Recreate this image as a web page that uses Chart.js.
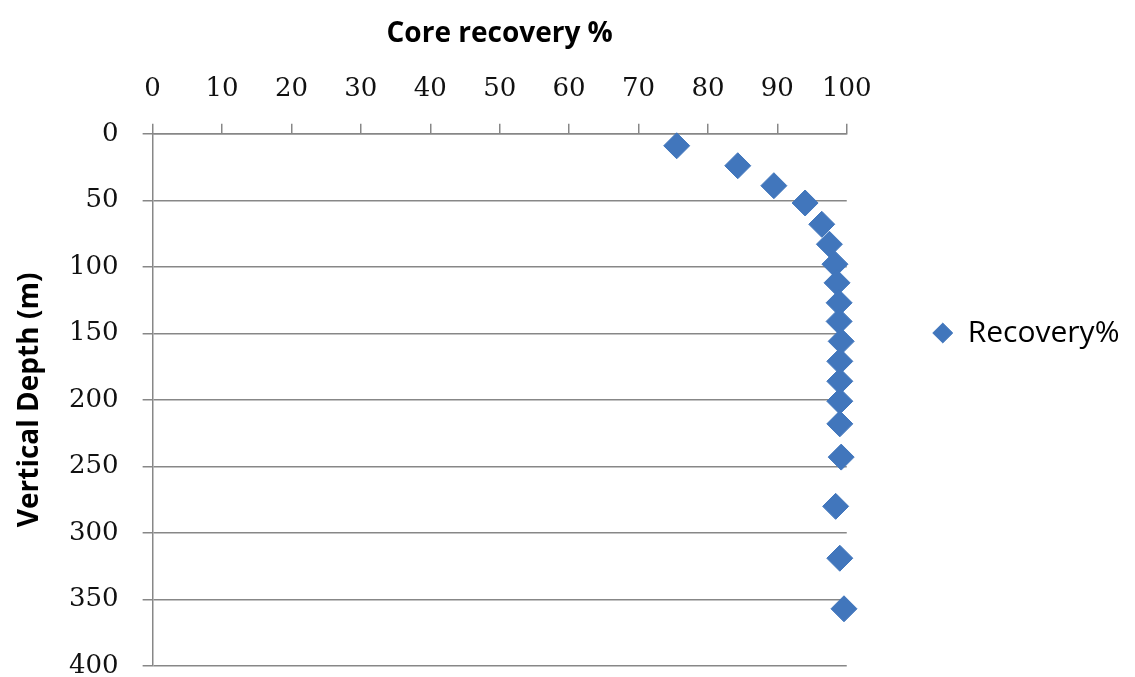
<!DOCTYPE html>
<html>
<head>
<meta charset="utf-8">
<script src="https://cdn.jsdelivr.net/npm/chart.js@4/dist/chart.umd.min.js"></script>
<style>
  html, body { margin: 0; padding: 0; background: #fff; }
  #wrap { width: 1135px; height: 677px; }
</style>
</head>
<body>
<div id="wrap"><canvas id="myChart" width="1135" height="677"></canvas></div>
<script>
'use strict';
// values
const recovery = [75.5, 84.3, 89.5, 94.0, 96.4, 97.5, 98.3, 98.6, 98.9, 98.9, 99.2, 99.0, 99.0, 99.0, 99.0, 99.2, 98.4, 99.0, 99.6];
const depth = [9, 24, 39, 52, 68, 83, 98, 112, 127, 141, 156, 171, 186, 201, 218, 243, 280, 319, 357];
const xTicks = [0, 10, 20, 30, 40, 50, 60, 70, 80, 90, 100];
const yTicks = [0, 50, 100, 150, 200, 250, 300, 350, 400];

const blue = '#4176BC';
const gridGrey = '#878787';
const tickFont = { family: '"DejaVu Serif", serif', size: 26 };
const titleFont = { family: '"Open Sans", sans-serif', size: 28, weight: 'bold' };

const points = recovery.map(function (v, i) {
    return { x: v, y: depth[i] };
});

const config = {
    type: 'scatter',
    data: {
        datasets: [
            {
                label: 'Recovery%',
                data: points,
                pointStyle: 'rectRot',
                pointRadius: 13,
                pointHoverRadius: 13,
                backgroundColor: blue,
                borderColor: blue,
                borderWidth: 1,
                clip: false,
            },
        ],
    },
    options: {
        responsive: false,
        animation: false,
        layout: {
            autoPadding: false,
            padding: { top: 0, left: 0, right: 6, bottom: 11 },
        },
        scales: {
            x: {
                type: 'linear',
                position: 'top',
                min: 0,
                max: 100,
                afterBuildTicks: function (axis) {
                    axis.ticks = xTicks.map(function (v) { return { value: v }; });
                },
                title: {
                    display: true,
                    text: 'Core recovery %',
                    color: '#000',
                    font: titleFont,
                    padding: { top: 17, bottom: 4 },
                },
                ticks: {
                    color: '#111',
                    font: tickFont,
                    padding: 19,
                    maxRotation: 0,
                },
                grid: {
                    drawOnChartArea: false,
                    drawTicks: true,
                    tickLength: 10,
                    color: gridGrey,
                    lineWidth: 1.5,
                },
                border: { display: true, color: gridGrey, width: 1.5 },
            },
            y: {
                type: 'linear',
                reverse: true,
                min: 0,
                max: 400,
                afterBuildTicks: function (axis) {
                    axis.ticks = yTicks.map(function (v) { return { value: v }; });
                },
                // let the 400 label hang near the bottom edge like the original
                afterFit: function (axis) {
                    axis.paddingBottom = 1;
                },
                title: {
                    display: true,
                    text: 'Vertical Depth (m)',
                    color: '#000',
                    font: { family: '"Open Sans", sans-serif', size: 28, weight: 'bold', lineHeight: 1 },
                    padding: { top: 16, bottom: 1 },
                },
                ticks: {
                    color: '#111',
                    font: tickFont,
                    padding: 24,
                },
                grid: {
                    drawOnChartArea: true,
                    drawTicks: true,
                    tickLength: 10,
                    color: gridGrey,
                    lineWidth: 1.5,
                },
                border: { display: true, color: gridGrey, width: 1.5 },
            },
        },
        plugins: {
            legend: {
                display: true,
                position: 'right',
                align: 'center',
                labels: {
                    usePointStyle: true,
                    boxHeight: 14,
                    pointStyleWidth: 20,
                    color: '#000',
                    font: { family: '"Open Sans", sans-serif', size: 30 },
                    padding: 86,
                },
            },
            tooltip: { enabled: false },
        },
    },
};

const myChart = new Chart(document.getElementById('myChart'), config);
</script>
</body>
</html>
